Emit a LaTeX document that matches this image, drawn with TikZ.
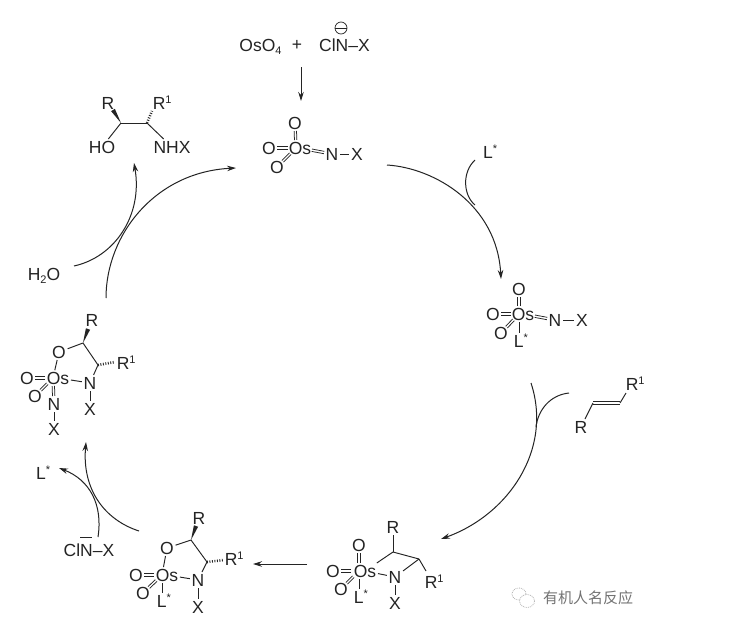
\documentclass[tikz,border=0pt]{standalone}
\usepackage{fontspec}
\setmainfont{Liberation Sans}
\newfontfamily\cjkfont{Noto Sans CJK SC}
\usetikzlibrary{arrows.meta,calc}
\definecolor{ink}{rgb}{0.14,0.14,0.14}
\newcommand{\upmark}[1]{\raisebox{6pt}{\fontsize{11}{11}\selectfont #1}}
\newcommand{\downmark}[1]{\raisebox{-3.5pt}{\fontsize{11}{11}\selectfont #1}}
\newcommand{\wedgebond}[2]{\fill[ink] (#1) -- ($(#2)!2.2pt!90:(#1)$) -- ($(#2)!2.2pt!-90:(#1)$) -- cycle;}
% double bond: from centre of #1 (cut by #3) to centre of #2 (cut by #4)
\newcommand{\dblb}[4]{%
  \coordinate (dbP) at ($(#1)!#3!(#2)$);
  \coordinate (dbQ) at ($(#2)!#4!(#1)$);
  \draw[bond,line width=0.75pt] ($(dbP)!1.2pt!90:(dbQ)$) -- ($(dbQ)!1.2pt!-90:(dbP)$);
  \draw[bond,line width=0.75pt] ($(dbP)!1.2pt!-90:(dbQ)$) -- ($(dbQ)!1.2pt!90:(dbP)$);
}
\tikzset{
  atom/.style={inner sep=1.6pt,text=ink,font=\fontsize{17.5}{17.5}\selectfont,text height=12.4pt,text depth=0pt},
  plainlabel/.style={inner sep=0pt,text=ink,font=\fontsize{17.5}{17.5}\selectfont,text height=12.4pt,text depth=0pt},
  bond/.style={draw=ink,line width=0.95pt},
  fromos/.style={shorten <=8pt},
  toos/.style={shorten >=8pt},
  hashbond/.style={draw=ink,line width=2.6pt,dash pattern=on 0.9pt off 1.6pt},
  rxn/.style={draw=ink,line width=1pt,-{Stealth[length=9pt,width=5.5pt]}},
  side/.style={draw=ink,line width=1pt},
}
\begin{document}
\begin{tikzpicture}[x=1pt,y=-1pt]
\useasboundingbox (0,0) rectangle (747,629);
\fill[white] (0,0) rectangle (747,629);

% reagents
\node[plainlabel] (oso4) at (260.5,45) {OsO\downmark{4}};
\node[plainlabel] (plus) at (297,44) {+};
\node[plainlabel] (cln) at (344.5,45) {ClN–X};
\node[circle,draw=ink,line width=0.7pt,inner sep=0pt,minimum size=12pt] (minus) at (341,28) {};
\draw[bond] (minus.west) -- (minus.east);
\coordinate (a0s) at (301,67);
\coordinate (a0e) at (301,101);
\draw[rxn] (a0s) -- (a0e);

% structure 1
\node[atom] (s1) at (300,148) {Os};
\coordinate (o1) at (296,148);
\node[atom] (s1a) at (295,123) {O};
\node[atom] (s1b) at (269,148) {O};
\node[atom] (s1c) at (277,167) {O};
\node[atom] (s1n) at (332,154) {N};
\node[atom] (s1x) at (357,154) {X};
\dblb{o1}{s1a}{8pt}{8pt}
\dblb{o1}{s1b}{8pt}{8pt}
\dblb{o1}{s1c}{8pt}{8pt}
\dblb{s1}{s1n}{12pt}{8pt}
\draw[bond] (s1n) -- (s1x);

% amino alcohol product
\node[atom] (pr) at (108,103) {R};
\node[atom,anchor=west] (pr1) at (151,103) {R\upmark{1}};
\coordinate (pc1) at (121,123);
\coordinate (pc2) at (147,123);
\coordinate (pw) at (113,110);
\coordinate (ph) at (152,111);
\node[atom] (pho) at (102,147) {HO};
\node[atom] (pnhx) at (172,147) {NHX};
\wedgebond{pc1}{pw}
\draw[hashbond] (pc2) -- (ph);
\draw[bond] (pc1) -- (pc2);
\draw[bond] (pc1) -- (pho);
\draw[bond] (pc2) -- (pnhx);

% structure 2 (right)
\node[atom] (s2) at (523,314) {Os};
\coordinate (o2) at (519,314);
\node[atom] (s2a) at (519,289) {O};
\node[atom] (s2b) at (493,314) {O};
\node[atom] (s2c) at (501,333) {O};
\node[atom] (s2l) at (521,341) {L\upmark{*}};
\node[atom] (s2n) at (555,320) {N};
\node[atom] (s2x) at (582,320) {X};
\dblb{o2}{s2a}{8pt}{8pt}
\dblb{o2}{s2b}{8pt}{8pt}
\dblb{o2}{s2c}{8pt}{8pt}
\draw[bond,fromos] (o2) -- (o2 |- s2l.north);
\dblb{s2}{s2n}{12pt}{8pt}
\draw[bond] (s2n) -- (s2x);

% alkene
\node[atom] (alr) at (581,427) {R};
\node[atom,anchor=west] (alr1) at (624,384) {R\upmark{1}};
\coordinate (alc1) at (593,403);
\coordinate (alc2) at (620,403);
\coordinate (alb) at (626,393);
\draw[bond] (alr) -- (alc1);
\dblb{alc1}{alc2}{0pt}{0pt}
\draw[bond] (alc2) -- (alb);

% structure 3 (bottom right)
\node[atom] (s3) at (365,571) {Os};
\coordinate (o3) at (359,571);
\node[atom] (s3a) at (359,545) {O};
\node[atom] (s3b) at (333,571) {O};
\node[atom] (s3c) at (341,589) {O};
\node[atom] (s3l) at (361,597) {L\upmark{*}};
\node[atom] (s3n) at (395,577) {N};
\node[atom] (s3x) at (395,603) {X};
\node[atom] (s3r) at (393,527) {R};
\node[atom,anchor=west] (s3r1) at (423,582) {R\upmark{1}};
\coordinate (s3c1) at (393,552);
\coordinate (s3c2) at (419,559);
\coordinate (s3b1) at (426,571);
\dblb{o3}{s3a}{8pt}{8pt}
\dblb{o3}{s3b}{8pt}{8pt}
\dblb{o3}{s3c}{8pt}{8pt}
\draw[bond,fromos] (o3) -- (o3 |- s3l.north);
\draw[bond] (s3) -- (s3c1);
\draw[bond] (s3) -- (s3n);
\draw[bond] (s3n) -- (s3c2);
\draw[bond] (s3n) -- (s3x);
\draw[bond] (s3c1) -- (s3c2);
\draw[bond] (s3c1) -- (s3r);
\draw[bond] (s3c2) -- (s3b1);

% structure 4 (bottom left)
\node[atom] (s4) at (167,575) {Os};
\coordinate (o4) at (162,575);
\node[atom] (s4o) at (167,548) {O};
\node[atom] (s4b) at (136,575) {O};
\node[atom] (s4c) at (143,593) {O};
\node[atom] (s4l) at (164,601) {L\upmark{*}};
\node[atom] (s4n) at (198,580) {N};
\node[atom] (s4x) at (198,607) {X};
\node[atom] (s4r) at (199,518) {R};
\node[atom,anchor=west] (s4r1) at (223,559) {R\upmark{1}};
\coordinate (s4c1) at (191,540);
\coordinate (s4c2) at (207,562);
\coordinate (s4w) at (196,526);
\coordinate (s4h) at (224,560);
\wedgebond{s4c1}{s4w}
\draw[hashbond] (s4c2) -- (s4h);
\dblb{o4}{s4b}{8pt}{8pt}
\dblb{o4}{s4c}{8pt}{8pt}
\draw[bond,fromos] (o4) -- (o4 |- s4l.north);
\draw[bond,toos] (s4o) -- (o4);
\draw[bond] (s4o) -- (s4c1);
\draw[bond] (s4c1) -- (s4c2);
\draw[bond] (s4c2) -- (s4n);
\draw[bond] (s4) -- (s4n);
\draw[bond] (s4n) -- (s4x);

% structure 5 (left)
\node[atom] (s5) at (58,378) {Os};
\coordinate (o5) at (53,378);
\node[atom] (s5o) at (59,352) {O};
\node[atom] (s5b) at (27,378) {O};
\node[atom] (s5c) at (35,396) {O};
\node[atom] (s5m) at (54,404) {N};
\node[atom] (s5y) at (54,429) {X};
\node[atom] (s5n) at (90,383) {N};
\node[atom] (s5x) at (90,409) {X};
\node[atom] (s5r) at (92,320) {R};
\node[atom,anchor=west] (s5r1) at (115,363) {R\upmark{1}};
\coordinate (s5c1) at (83,343);
\coordinate (s5c2) at (98,365);
\coordinate (s5w) at (88,329);
\coordinate (s5h) at (115,362);
\wedgebond{s5c1}{s5w}
\draw[hashbond] (s5c2) -- (s5h);
\dblb{o5}{s5b}{8pt}{8pt}
\dblb{o5}{s5c}{8pt}{8pt}
\dblb{o5}{s5m}{8pt}{8pt}
\draw[bond,toos] (s5o) -- (o5);
\draw[bond] (s5o) -- (s5c1);
\draw[bond] (s5c1) -- (s5c2);
\draw[bond] (s5c2) -- (s5n);
\draw[bond] (s5) -- (s5n);
\draw[bond] (s5n) -- (s5x);
\draw[bond] (s5m) -- (s5y);

% side labels
\node[plainlabel,anchor=west] (ll1) at (483,152) {L\upmark{*}};
\node[plainlabel] (h2o) at (44,274) {H\downmark{2}O};
\node[plainlabel,anchor=west] (ll2) at (36,473) {L\upmark{*}};
\node[plainlabel] (cln2) at (89,550) {ClN–X};
\coordinate (barl) at (80,537);
\coordinate (barr) at (92,537);
\draw[bond] (barl) -- (barr);

% main arcs
\coordinate (m1s) at (387,165);
\coordinate (m1e) at (501,279);
\draw[rxn] (m1s) .. controls (435,168) and (497,205) .. (m1e);
\coordinate (m2s) at (531,383);
\coordinate (m2e) at (441,539);
\draw[rxn] (m2s) .. controls (553,450) and (508,515) .. (m2e);
\coordinate (m3s) at (307,564);
\coordinate (m3e) at (253,564);
\draw[rxn] (m3s) -- (m3e);
\coordinate (m4s) at (139,531);
\coordinate (m4e) at (86,442);
\draw[rxn] (m4s) .. controls (105,520) and (82,490) .. (m4e);
\coordinate (m5s) at (106,298);
\coordinate (m5e) at (236,168);
\draw[rxn] (m5s) .. controls (106,235) and (155,172) .. (m5e);

% side curves
\coordinate (b1s) at (475,160);
\coordinate (b1e) at (475,205);
\draw[side] (b1s) .. controls (462,172) and (463,195) .. (b1e);
\coordinate (b2s) at (569,393);
\coordinate (b2e) at (536,427);
\draw[side] (b2s) .. controls (550,395) and (538,410) .. (b2e);
\coordinate (b3s) at (98,537);
\coordinate (b3e) at (59,468);
\draw[rxn] (b3s) .. controls (103,505) and (90,480) .. (b3e);
\coordinate (b4s) at (74,266);
\coordinate (b4e) at (134,163);
\draw[rxn] (b4s) .. controls (115,257) and (143,215) .. (b4e);

% watermark
\begin{scope}[draw=black!30,line width=0.8pt,densely dotted]
\draw (519,594) ellipse (7 and 6);
\draw[fill=white] (527,601) ellipse (7.5 and 6.5);
\end{scope}
\node[inner sep=0pt,text=black!55,font=\cjkfont\fontsize{15}{15}\selectfont] (wm) at (588,598) {有机人名反应};
\end{tikzpicture}
\end{document}
